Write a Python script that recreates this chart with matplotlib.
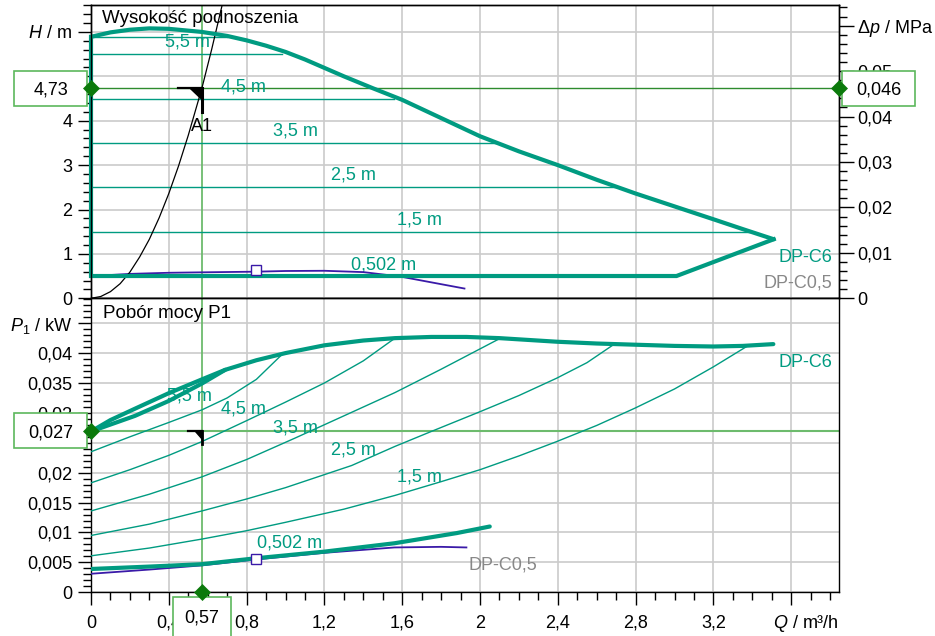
import matplotlib
matplotlib.use("Agg")
import matplotlib.pyplot as plt
from matplotlib.patches import Rectangle, Polygon
from matplotlib.lines import Line2D
from matplotlib.ticker import MultipleLocator, FuncFormatter

plt.rcParams['font.family'] = ['Liberation Sans', 'DejaVu Sans']
plt.rcParams['mathtext.fontset'] = 'custom'
plt.rcParams['mathtext.rm'] = 'Liberation Sans'
plt.rcParams['mathtext.it'] = 'Liberation Sans:italic'
plt.rcParams['font.size'] = 13

# ---- head panel (H in m over Q in m3/h) ----
max_q = [0, 0.1, 0.2, 0.3, 0.4, 0.57, 0.7, 0.8, 0.9, 1.0, 1.1, 1.2, 1.3, 1.45, 1.6,
         1.8, 2.0, 2.2, 2.4, 2.6, 2.8, 3.0, 3.2, 3.35, 3.51]
max_h = [5.89, 5.99, 6.05, 6.08, 6.07, 6.0, 5.91, 5.81, 5.69, 5.55, 5.38, 5.19, 5.0,
         4.73, 4.47, 4.06, 3.65, 3.31, 3.0, 2.67, 2.36, 2.07, 1.78, 1.56, 1.33]
min_q = [3.51, 3.01, 0, 0]
min_h = [1.33, 0.502, 0.502, 5.89]

dp_levels = [5.89, 5.5, 4.5, 3.5, 2.5, 1.5]
dp_end_q = [0.70, 0.98, 1.56, 2.08, 2.71, 3.40]

sys_q = [0, 0.05, 0.1, 0.15, 0.2, 0.25, 0.3, 0.35, 0.4, 0.45, 0.5, 0.57, 0.62, 0.674, 0.7]
sys_h = [0, 0.04, 0.15, 0.33, 0.59, 0.93, 1.33, 1.81, 2.36, 2.98, 3.67, 4.73, 5.6, 6.6, 7.1]

c05_q = [0, 0.2, 0.4, 0.57, 0.85, 1.0, 1.2, 1.4, 1.59, 1.92]
c05_h = [0.50, 0.55, 0.575, 0.585, 0.60, 0.615, 0.62, 0.59, 0.49, 0.22]

head_labels = ['5,5 m', '4,5 m', '3,5 m', '2,5 m', '1,5 m', '0,502 m']
head_lab_q = [0.497, 0.783, 1.051, 1.349, 1.69, 1.503]
head_lab_h = [5.78, 4.75, 3.77, 2.78, 1.76, 0.75]

# ---- power panel (P1 in kW over Q) ----
pmax_q = [0, 0.1, 0.226, 0.4, 0.57, 0.69, 0.85, 1.0, 1.2, 1.4, 1.563, 1.75, 1.93,
          2.1, 2.394, 2.6, 2.797, 3.0, 3.2, 3.35, 3.508]
pmax_p = [0.0269, 0.0288, 0.0307, 0.0333, 0.0356, 0.0372, 0.0388, 0.0400, 0.0413,
          0.0421, 0.0425, 0.0427, 0.0427, 0.0425, 0.0419, 0.0416, 0.0414, 0.0412,
          0.0411, 0.0412, 0.0415]
ptop_q = [0, 0.226, 0.4, 0.57, 0.69]
ptop_p = [0.0269, 0.0295, 0.0320, 0.0349, 0.0372]
pmin_q = [0, 0.3, 0.57, 0.85, 1.2, 1.56, 1.88, 2.05]
pmin_p = [0.0039, 0.0043, 0.0047, 0.0057, 0.0068, 0.0082, 0.0099, 0.0110]

pdp_q = [
    [0, 0.2, 0.4, 0.57, 0.7, 0.85, 0.98],
    [0, 0.2, 0.4, 0.57, 0.8, 1.0, 1.2, 1.4, 1.563],
    [0, 0.3, 0.57, 0.8, 1.05, 1.3, 1.563, 1.8, 2.094],
    [0, 0.3, 0.57, 0.8, 1.0, 1.34, 1.563, 1.75, 2.0, 2.2, 2.394, 2.55, 2.686],
    [0, 0.3, 0.57, 0.8, 1.0, 1.3, 1.563, 1.8, 2.0, 2.2, 2.394, 2.6, 2.797, 3.0, 3.2, 3.371],
]
pdp_p = [
    [0.0235, 0.0260, 0.0284, 0.0305, 0.0325, 0.0356, 0.0397],
    [0.0183, 0.0205, 0.0229, 0.0252, 0.0287, 0.0318, 0.0350, 0.0387, 0.0425],
    [0.0136, 0.0164, 0.0193, 0.0222, 0.0258, 0.0295, 0.0334, 0.0373, 0.0423],
    [0.0095, 0.0114, 0.0136, 0.0156, 0.0175, 0.0212, 0.0244, 0.0269, 0.0302,
     0.0329, 0.0358, 0.0384, 0.0414],
    [0.0061, 0.0074, 0.0089, 0.0103, 0.0117, 0.0139, 0.0162, 0.0185, 0.0205,
     0.0228, 0.0252, 0.0279, 0.0308, 0.0340, 0.0377, 0.0411],
]
pc05_q = [0, 0.3, 0.57, 0.85, 1.2, 1.56, 1.8, 1.93]
pc05_p = [0.0031, 0.0038, 0.0045, 0.0055, 0.0066, 0.0075, 0.0076, 0.0075]

power_lab_q = [0.504, 0.783, 1.05, 1.349, 1.69, 1.021]
power_lab_p = [0.0329, 0.0306, 0.0275, 0.0238, 0.0193, 0.0082]

# operating point
op_q = 0.57
op_h = 4.73
op_dp = 0.046
op_p = 0.027
c05_mark_q = 0.847
c05_mark_h = 0.64
c05_mark_p = 0.0055

MPA_PER_M = 0.00977

TEAL = '#009b81'
PURPLE = '#3a1aa8'
GRID = '#cbcbcb'
DGREEN = '#0b7a0b'
LGREEN = '#6dbb6d'
BOXEDGE = '#5cb85c'


def comma(v, _=None):
    s = f"{v:.3f}".rstrip('0').rstrip('.')
    return s.replace('.', ',')


FW, FH = 935, 636
fig = plt.figure(figsize=(9.35, 6.36), dpi=100)
ax1 = fig.add_axes([91 / FW, 337.7 / FH, 747.5 / FW, 293 / FH])
ax2 = fig.add_axes([91 / FW, 43.7 / FH, 747.5 / FW, 294 / FH])

for ax in (ax1, ax2):
    ax.set_xlim(0, 3.843)
    ax.xaxis.set_major_locator(MultipleLocator(0.4))
    ax.xaxis.set_minor_locator(MultipleLocator(0.1))
    ax.grid(which='major', color=GRID, lw=1.2)
    ax.set_axisbelow(True)
    for s in ax.spines.values():
        s.set_color('black')
        s.set_linewidth(1)
    ax.tick_params(which='major', direction='out', length=9.5, width=1, pad=4)
    ax.tick_params(which='minor', direction='out', length=6, width=1)
    ax.tick_params(right=False, top=False, which='both')


# labels hidden behind the value boxes are left blank
def head_fmt(v, p):
    if abs(v - 6) < 1e-6:
        return '$H$ / m'
    if abs(v - 5) < 1e-6:
        return ''
    return comma(v)


def power_fmt(v, p):
    if abs(v - 0.045) < 1e-7:
        return '$P_1$ / kW'
    if abs(v - 0.025) < 1e-7:
        return ''
    return comma(v)


# ---------- head panel ----------
ax1.set_ylim(0, 6.6)
ax1.yaxis.set_major_locator(MultipleLocator(1))
ax1.yaxis.set_minor_locator(MultipleLocator(0.2))
ax1.yaxis.set_major_formatter(FuncFormatter(head_fmt))
ax1.tick_params(which='both', bottom=False, labelbottom=False)

axr = ax1.twinx()
axr.set_ylim(0, 6.6 * MPA_PER_M)
axr.yaxis.set_major_locator(MultipleLocator(0.01))
axr.yaxis.set_minor_locator(MultipleLocator(0.002))
axr.yaxis.set_major_formatter(FuncFormatter(
    lambda v, p: r'$\Delta p$ / MPa' if abs(v - 0.06) < 1e-6 else comma(v)))
axr.tick_params(which='major', direction='out', length=10.5, width=1, pad=3)
axr.tick_params(which='minor', direction='out', length=6, width=1)
for s in axr.spines.values():
    s.set_linewidth(1)

ax1.text(0.0143, 0.956, 'Wysokość podnoszenia', transform=ax1.transAxes,
         ha='left', va='center', fontsize=13.5)

for lev, qe in zip(dp_levels, dp_end_q):
    ax1.plot([0, qe], [lev, lev], color=TEAL, lw=1, zorder=3)
ax1.plot(max_q, max_h, color=TEAL, lw=3, zorder=4, solid_capstyle='round')
ax1.plot(min_q, min_h, color=TEAL, lw=3, zorder=4, clip_on=False,
         solid_joinstyle='miter')
ax1.plot(c05_q, c05_h, color=PURPLE, lw=1.3, zorder=3.5)
ax1.plot([c05_mark_q], [c05_mark_h], marker='s', ms=7, mfc='white',
         mec=PURPLE, mew=1, zorder=5)
ax1.plot(sys_q, sys_h, color='black', lw=0.9, zorder=3.6)

for t, q, h in zip(head_labels, head_lab_q, head_lab_h):
    ax1.text(q, h, t, color=TEAL, ha='center', va='center', zorder=3.2)
ax1.text(3.81, 0.915, 'DP-C6', color=TEAL, ha='right', va='center')
ax1.text(3.81, 0.34, 'DP-C0,5', color='#888888', ha='right', va='center')

ax1.axhline(op_h, color='#2e8b2e', lw=1, zorder=2)
ax1.axvline(op_q, color=LGREEN, lw=1.3, zorder=2)

# A1 symbol
ax1.plot([op_q - 0.125, op_q], [op_h, op_h], color='black', lw=1.6, zorder=6)
ax1.plot([op_q, op_q], [op_h, op_h - 0.53], color='black', lw=2.2, zorder=6)
ax1.add_patch(Polygon([[op_q - 0.06, op_h], [op_q, op_h], [op_q - 0.005, op_h - 0.23]],
                      closed=True, color='black', zorder=6))
ax1.text(op_q, op_h - 0.87, 'A1', ha='center', va='center', zorder=6)

# ---------- power panel ----------
ax2.set_ylim(0, 0.04916)
ax2.yaxis.set_major_locator(MultipleLocator(0.005))
ax2.yaxis.set_minor_locator(MultipleLocator(0.001))
ax2.yaxis.set_major_formatter(FuncFormatter(power_fmt))
ax2.xaxis.set_major_formatter(FuncFormatter(
    lambda v, p: '' if abs(v - 3.6) < 1e-6 else comma(v)))
ax2.tick_params(axis='x', which='major', pad=6.5)

ax2.text(0.0157, 0.949, 'Pobór mocy P1', transform=ax2.transAxes,
         ha='left', va='center', fontsize=13.5)

for qs, ps in zip(pdp_q, pdp_p):
    ax2.plot(qs, ps, color=TEAL, lw=1, zorder=3)
ax2.plot(ptop_q, ptop_p, color=TEAL, lw=3, zorder=4, solid_capstyle='round')
ax2.plot(pmax_q, pmax_p, color=TEAL, lw=3, zorder=4, solid_capstyle='round')
ax2.plot(pc05_q, pc05_p, color=PURPLE, lw=1.3, zorder=3.5)
ax2.plot(pmin_q, pmin_p, color=TEAL, lw=3, zorder=4, solid_capstyle='round')
ax2.plot([c05_mark_q], [c05_mark_p], marker='s', ms=7, mfc='white',
         mec=PURPLE, mew=1, zorder=5)

for t, q, p in zip(head_labels, power_lab_q, power_lab_p):
    ax2.text(q, p, t, color=TEAL, ha='center', va='center', zorder=3.2)
ax2.text(3.81, 0.0384, 'DP-C6', color=TEAL, ha='right', va='center')
ax2.text(1.943, 0.0046, 'DP-C0,5', color='#888888', ha='left', va='center')

ax2.axhline(op_p, color=LGREEN, lw=1.5, zorder=2)
ax2.axvline(op_q, color=LGREEN, lw=1.3, zorder=2)

ax2.plot([op_q - 0.07, op_q], [op_p, op_p], color='black', lw=1.6, zorder=6)
ax2.plot([op_q, op_q], [op_p, op_p - 0.0022], color='black', lw=2.0, zorder=6)
ax2.add_patch(Polygon([[op_q - 0.035, op_p], [op_q, op_p], [op_q, op_p - 0.0013]],
                      closed=True, color='black', zorder=6))

fig.text(838.5 / FW, (FH - 623) / FH, '$Q$ / m³/h', ha='right', va='center')


# ---------- value boxes and diamonds ----------
def to_px(ax, x, y):
    return ax.transData.transform((x, y))


def box(cx, cy, w, h):
    fig.add_artist(Rectangle(((cx - w / 2) / FW, (cy - h / 2) / FH), w / FW, h / FH,
                             transform=fig.transFigure, fc='white', ec=BOXEDGE,
                             lw=1.2, zorder=5))


def diamond(ax, x, y):
    fig.add_artist(Line2D([x], [y], transform=ax.transData, marker='D', ms=8,
                          color=DGREEN, mec=DGREEN, mew=0.5, zorder=7))


_, y_h = to_px(ax1, 0, op_h)
box(50.5, y_h, 73, 35)
fig.text(50.5 / FW, y_h / FH, comma(op_h), ha='center', va='center_baseline', zorder=6)
box(878.5, y_h, 73, 35)
fig.text(878.5 / FW, y_h / FH, comma(op_dp), ha='center', va='center_baseline', zorder=6)

_, y_p = to_px(ax2, 0, op_p)
box(50.5, y_p, 73, 35)
fig.text(50.5 / FW, y_p / FH, comma(op_p), ha='center', va='center_baseline', zorder=6)

x_q, _ = to_px(ax2, op_q, 0)
box(x_q, FH - 597 - 25, 58, 50)
fig.text(x_q / FW, (FH - 616) / FH, comma(op_q), ha='center', va='center_baseline', zorder=6)

diamond(ax1, 0, op_h)
diamond(ax1, 3.843, op_h)
diamond(ax2, 0, op_p)
diamond(ax2, op_q, 0)

fig.savefig('out.png', dpi=100)
